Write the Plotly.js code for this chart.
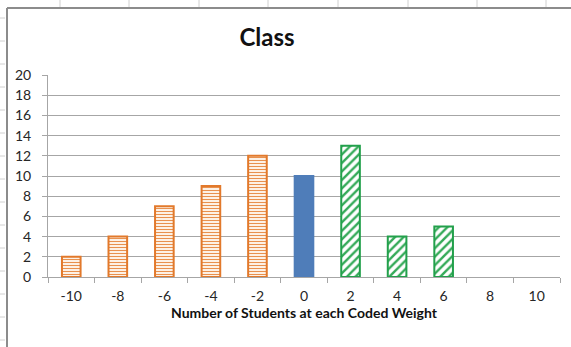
<!DOCTYPE html>
<html>
<head>
<meta charset="utf-8">
<script src="https://cdn.plot.ly/plotly-3.0.1.min.js"></script>
<style>
  html, body { margin: 0; padding: 0; background: #ffffff; }
  #chart { width: 571px; height: 347px; }
</style>
</head>
<body>
<div id="chart"></div>
<script>
// Coded weight categories and the number of students at each
const codedWeights = ['-10', '-8', '-6', '-4', '-2', '0', '2', '4', '6', '8', '10'];
const studentCounts = [2, 4, 7, 9, 12, 10, 13, 4, 5, 0, 0];

// Group of each category: below, at, or above the reference weight
const groups = ['below', 'below', 'below', 'below', 'below', 'zero', 'above', 'above', 'above', 'above', 'above'];

const groupStyle = {
  below: { line: '#E2792B', fg: '#E8914F', bg: '#FFF8F0', shape: '-', size: 3, solidity: 0.38 },
  zero:  { line: '#4F7DB9', fg: '#4F7DB9', bg: '#4F7DB9', shape: '',  size: 3, solidity: 0.5 },
  above: { line: '#22A04B', fg: '#34AA58', bg: '#FFFFFF', shape: '/', size: 6, solidity: 0.4 }
};

// one bar trace per group, all sharing the same category axis
const traces = ['below', 'zero', 'above'].map(g => {
  const xs = [], ys = [];
  codedWeights.forEach((c, i) => {
    if (groups[i] === g) { xs.push(c); ys.push(studentCounts[i]); }
  });
  const s = groupStyle[g];
  return {
    type: 'bar',
    name: g,
    x: xs,
    y: ys,
    marker: {
      color: s.bg,
      // empty categories get no outline
      line: { color: s.line, width: ys.map(v => (v > 0 ? 2 : 0)) },
      pattern: {
        shape: s.shape,
        fgcolor: s.fg,
        bgcolor: s.bg,
        size: s.size,
        solidity: s.solidity,
        fillmode: 'replace'
      }
    },
    hoverinfo: 'x+y'
  };
});

const font = 'Lato, "Open Sans", sans-serif';

// faint worksheet cell borders around the chart frame
const cellLines = [];
[60, 129, 199, 268, 338, 408, 477, 546].forEach(px => {
  cellLines.push({
    type: 'line', xref: 'paper', yref: 'paper',
    x0: (px - 48) / 512, x1: (px - 48) / 512,
    y0: (277 - 0) / 202, y1: (277 - 7) / 202,
    line: { color: '#D0D0D0', width: 1 }
  });
});
for (let py = 18; py < 347; py += 23) {
  cellLines.push({
    type: 'line', xref: 'paper', yref: 'paper',
    x0: (0 - 48) / 512, x1: (5 - 48) / 512,
    y0: (277 - py) / 202, y1: (277 - py) / 202,
    line: { color: '#D0D0D0', width: 1 }
  });
}

const layout = {
  width: 571,
  height: 347,
  margin: { l: 48, r: 11, t: 75, b: 70 },
  paper_bgcolor: '#ffffff',
  plot_bgcolor: '#ffffff',
  showlegend: false,
  barmode: 'overlay',
  bargap: 0.6,
  font: { family: font, size: 13, color: '#262626' },
  title: {
    text: '<b>Class</b>',
    font: { family: font, size: 24, color: '#111111' },
    x: 267 / 571, xanchor: 'center', xref: 'container',
    y: 1 - 38 / 347, yanchor: 'middle', yref: 'container'
  },
  xaxis: {
    type: 'category',
    categoryorder: 'array',
    categoryarray: codedWeights,
    tickson: 'boundaries',
    ticks: 'outside',
    ticklen: 5,
    tickcolor: '#A6A6A6',
    showline: true,
    linecolor: '#A6A6A6',
    linewidth: 1,
    showgrid: false,
    tickfont: { family: font, size: 14, color: '#262626' },
    ticklabelstandoff: 6,
    title: {
      text: '<b>Number of Students at each Coded Weight</b>',
      font: { family: font, size: 14, color: '#111111' },
      standoff: 4
    }
  },
  yaxis: {
    range: [0, 20],
    dtick: 2,
    ticks: 'outside',
    ticklen: 5,
    tickcolor: '#A6A6A6',
    showline: true,
    linecolor: '#A6A6A6',
    linewidth: 1,
    showgrid: true,
    gridcolor: '#A6A6A6',
    gridwidth: 1,
    zeroline: false,
    tickfont: { family: font, size: 14, color: '#262626' },
    ticklabelstandoff: 8
  },
  shapes: cellLines.concat([
    // chart frame: left and top edges
    {
      type: 'line', xref: 'paper', yref: 'paper',
      x0: (7 - 48) / 512, x1: (7 - 48) / 512,
      y0: (277 - 347) / 202, y1: (277 - 8) / 202,
      line: { color: '#8C8C8C', width: 2 }
    },
    {
      type: 'line', xref: 'paper', yref: 'paper',
      x0: (7 - 48) / 512, x1: (571 - 48) / 512,
      y0: (277 - 8) / 202, y1: (277 - 8) / 202,
      line: { color: '#8C8C8C', width: 2 }
    }
  ])
};

Plotly.newPlot('chart', traces, layout, { displayModeBar: false, staticPlot: true });
</script>
</body>
</html>
